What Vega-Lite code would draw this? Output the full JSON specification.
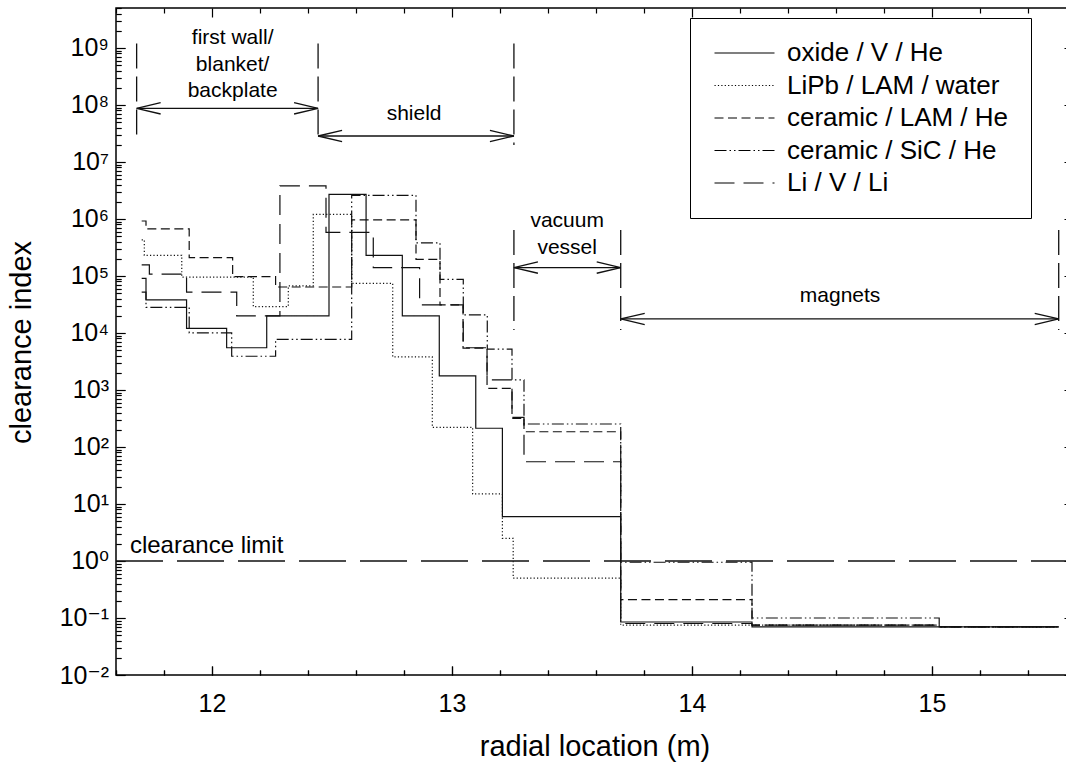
{
  "$schema": "https://vega.github.io/schema/vega-lite/v6.json",
  "width": 957,
  "height": 667,
  "autosize": {"type": "none"},
  "padding": {"left": 116, "top": 8, "right": -7, "bottom": 101},
  "config": {
    "font": "Liberation Sans",
    "view": {"stroke": "black", "strokeWidth": 1.5},
    "axis": {"domain": false, "labelColor": "black", "titleColor": "black", "labelFont": "Liberation Sans, DejaVu Sans", "titleFont": "Liberation Sans", "titleFontWeight": "normal"}
  },
  "datasets": {
    "series": [
      {"s": "oxide / V / He", "x": 11.707, "y": 91000},
      {"s": "oxide / V / He", "x": 11.725, "y": 38000},
      {"s": "oxide / V / He", "x": 11.894, "y": 12000},
      {"s": "oxide / V / He", "x": 12.061, "y": 5500},
      {"s": "oxide / V / He", "x": 12.228, "y": 20000},
      {"s": "oxide / V / He", "x": 12.4875, "y": 2700000},
      {"s": "oxide / V / He", "x": 12.642, "y": 230000},
      {"s": "oxide / V / He", "x": 12.793, "y": 20000},
      {"s": "oxide / V / He", "x": 12.947, "y": 1760},
      {"s": "oxide / V / He", "x": 13.099, "y": 213},
      {"s": "oxide / V / He", "x": 13.21, "y": 6},
      {"s": "oxide / V / He", "x": 13.703, "y": 0.085},
      {"s": "oxide / V / He", "x": 14.25, "y": 0.07},
      {"s": "oxide / V / He", "x": 15.528, "y": 0.07},

      {"s": "LiPb / LAM / water", "x": 11.707, "y": 430000},
      {"s": "LiPb / LAM / water", "x": 11.718, "y": 230000},
      {"s": "LiPb / LAM / water", "x": 11.874, "y": 95000},
      {"s": "LiPb / LAM / water", "x": 12.172, "y": 29000},
      {"s": "LiPb / LAM / water", "x": 12.318, "y": 67000},
      {"s": "LiPb / LAM / water", "x": 12.422, "y": 1200000},
      {"s": "LiPb / LAM / water", "x": 12.582, "y": 74000},
      {"s": "LiPb / LAM / water", "x": 12.753, "y": 3800},
      {"s": "LiPb / LAM / water", "x": 12.918, "y": 221},
      {"s": "LiPb / LAM / water", "x": 13.086, "y": 15},
      {"s": "LiPb / LAM / water", "x": 13.21, "y": 2.5},
      {"s": "LiPb / LAM / water", "x": 13.255, "y": 0.5},
      {"s": "LiPb / LAM / water", "x": 13.703, "y": 0.075},
      {"s": "LiPb / LAM / water", "x": 15.03, "y": 0.07},
      {"s": "LiPb / LAM / water", "x": 15.528, "y": 0.07},

      {"s": "ceramic / LAM / He", "x": 11.707, "y": 920000},
      {"s": "ceramic / LAM / He", "x": 11.725, "y": 670000},
      {"s": "ceramic / LAM / He", "x": 11.905, "y": 210000},
      {"s": "ceramic / LAM / He", "x": 12.086, "y": 97000},
      {"s": "ceramic / LAM / He", "x": 12.265, "y": 64000},
      {"s": "ceramic / LAM / He", "x": 12.582, "y": 960000},
      {"s": "ceramic / LAM / He", "x": 12.85, "y": 196000},
      {"s": "ceramic / LAM / He", "x": 12.95, "y": 31000},
      {"s": "ceramic / LAM / He", "x": 13.046, "y": 5400},
      {"s": "ceramic / LAM / He", "x": 13.146, "y": 1070},
      {"s": "ceramic / LAM / He", "x": 13.25, "y": 318},
      {"s": "ceramic / LAM / He", "x": 13.3, "y": 185},
      {"s": "ceramic / LAM / He", "x": 13.703, "y": 0.21},
      {"s": "ceramic / LAM / He", "x": 14.25, "y": 0.075},
      {"s": "ceramic / LAM / He", "x": 15.03, "y": 0.07},
      {"s": "ceramic / LAM / He", "x": 15.528, "y": 0.07},

      {"s": "ceramic / SiC / He", "x": 11.707, "y": 52000},
      {"s": "ceramic / SiC / He", "x": 11.725, "y": 28000},
      {"s": "ceramic / SiC / He", "x": 11.905, "y": 10000},
      {"s": "ceramic / SiC / He", "x": 12.082, "y": 3900},
      {"s": "ceramic / SiC / He", "x": 12.265, "y": 7700},
      {"s": "ceramic / SiC / He", "x": 12.582, "y": 2600000},
      {"s": "ceramic / SiC / He", "x": 12.85, "y": 380000},
      {"s": "ceramic / SiC / He", "x": 12.95, "y": 87000},
      {"s": "ceramic / SiC / He", "x": 13.047, "y": 20700},
      {"s": "ceramic / SiC / He", "x": 13.147, "y": 5200},
      {"s": "ceramic / SiC / He", "x": 13.25, "y": 1500},
      {"s": "ceramic / SiC / He", "x": 13.3, "y": 253},
      {"s": "ceramic / SiC / He", "x": 13.703, "y": 0.95},
      {"s": "ceramic / SiC / He", "x": 14.25, "y": 0.1},
      {"s": "ceramic / SiC / He", "x": 15.03, "y": 0.07},
      {"s": "ceramic / SiC / He", "x": 15.528, "y": 0.07},

      {"s": "Li / V / Li", "x": 11.707, "y": 156000},
      {"s": "Li / V / Li", "x": 11.739, "y": 108000},
      {"s": "Li / V / Li", "x": 11.894, "y": 52000},
      {"s": "Li / V / Li", "x": 12.103, "y": 20000},
      {"s": "Li / V / Li", "x": 12.283, "y": 3800000},
      {"s": "Li / V / Li", "x": 12.475, "y": 580000},
      {"s": "Li / V / Li", "x": 12.672, "y": 140000},
      {"s": "Li / V / Li", "x": 12.865, "y": 31000},
      {"s": "Li / V / Li", "x": 13.047, "y": 5500},
      {"s": "Li / V / Li", "x": 13.146, "y": 1500},
      {"s": "Li / V / Li", "x": 13.25, "y": 330},
      {"s": "Li / V / Li", "x": 13.3, "y": 55},
      {"s": "Li / V / Li", "x": 13.703, "y": 0.08},
      {"s": "Li / V / Li", "x": 14.25, "y": 0.075},
      {"s": "Li / V / Li", "x": 15.03, "y": 0.07},
      {"s": "Li / V / Li", "x": 15.528, "y": 0.07}
    ],
    "limit": [{"x1": 11.6, "x2": 15.5875, "y": 1}],
    "bounds": [
      {"x": 11.686, "y1": 1.2e9, "y2": 2.24e7},
      {"x": 12.442, "y1": 1.2e9, "y2": 2.24e7},
      {"x": 13.258, "y1": 1.2e9, "y2": 1.98e7},
      {"x": 13.258, "y1": 640000, "y2": 11300},
      {"x": 13.703, "y1": 640000, "y2": 11300},
      {"x": 15.528, "y1": 640000, "y2": 11300}
    ],
    "spans": [
      {"x1": 11.686, "x2": 12.442, "y": 8.7e7},
      {"x1": 12.442, "x2": 13.258, "y": 2.85e7},
      {"x1": 13.258, "x2": 13.703, "y": 140000},
      {"x1": 13.703, "x2": 15.528, "y": 17600}
    ],
    "heads": [
      {"x": 11.686, "y": 8.7e7, "dir": "L"},
      {"x": 12.442, "y": 8.7e7, "dir": "R"},
      {"x": 12.442, "y": 2.85e7, "dir": "L"},
      {"x": 13.258, "y": 2.85e7, "dir": "R"},
      {"x": 13.258, "y": 140000, "dir": "L"},
      {"x": 13.703, "y": 140000, "dir": "R"},
      {"x": 13.703, "y": 17600, "dir": "L"},
      {"x": 15.528, "y": 17600, "dir": "R"}
    ],
    "labels": [
      {"x": 12.086, "y": 1.16e9, "t": "first wall/"},
      {"x": 12.086, "y": 3.94e8, "t": "blanket/"},
      {"x": 12.086, "y": 1.35e8, "t": "backplate"},
      {"x": 12.842, "y": 5.4e7, "t": "shield"},
      {"x": 13.48, "y": 710000, "t": "vacuum"},
      {"x": 13.48, "y": 243000, "t": "vessel"},
      {"x": 14.617, "y": 35000, "t": "magnets"}
    ],
    "limitlabel": [{"x": 11.658, "y": 1.38, "t": "clearance limit"}]
  },
  "layer": [
    {
      "data": {"name": "series"},
      "mark": {"type": "line", "interpolate": "step-after", "strokeWidth": 1.2, "color": "#111"},
      "encoding": {
        "x": {"field": "x", "type": "quantitative",
          "scale": {"domain": [11.6, 15.5875], "nice": false, "zero": false},
          "axis": {"orient": "bottom",
            "values": [11.6, 11.8, 12, 12.2, 12.4, 12.6, 12.8, 13, 13.2, 13.4, 13.6, 13.8, 14, 14.2, 14.4, 14.6, 14.8, 15, 15.2, 15.4],
            "labelExpr": "abs(datum.value - round(datum.value)) < 0.001 ? format(datum.value, 'd') : ''",
            "ticks": true, "tickColor": "black", "tickWidth": 1.2,
            "tickSize": {"condition": {"test": "abs(datum.value - round(datum.value)) < 0.001", "value": -9}, "value": -5},
            "grid": true, "gridColor": "black", "gridOpacity": 1, "gridWidth": 1.2,
            "gridDash": {"condition": {"test": "abs(datum.value - round(datum.value)) < 0.001", "value": [9, 649, 9, 200]}, "value": [5, 657, 5, 200]},
            "labelFontSize": 25, "labelPadding": 25, "labelBound": false, "labelOverlap": false,
            "title": "radial location (m)", "titleFontSize": 29, "titleY": 57, "titleBaseline": "top"}},
        "y": {"field": "y", "type": "quantitative",
          "scale": {"type": "log", "domain": [0.01, 5011872336], "nice": false},
          "axis": {"orient": "left",
            "values": [0.01,0.02,0.03,0.04,0.05,0.06,0.07,0.08,0.09,0.1,0.2,0.3,0.4,0.5,0.6,0.7,0.8,0.9,1,2,3,4,5,6,7,8,9,10,20,30,40,50,60,70,80,90,100,200,300,400,500,600,700,800,900,1000,2000,3000,4000,5000,6000,7000,8000,9000,10000,20000,30000,40000,50000,60000,70000,80000,90000,100000,200000,300000,400000,500000,600000,700000,800000,900000,1000000,2000000,3000000,4000000,5000000,6000000,7000000,8000000,9000000,10000000,20000000,30000000,40000000,50000000,60000000,70000000,80000000,90000000,100000000,200000000,300000000,400000000,500000000,600000000,700000000,800000000,900000000,1000000000,2000000000,3000000000,4000000000,5000000000],
            "labelExpr": "abs(log(datum.value)/LN10 - round(log(datum.value)/LN10)) < 0.001 ? '10' + ['⁻²','⁻¹','⁰','¹','²','³','⁴','⁵','⁶','⁷','⁸','⁹'][round(log(datum.value)/LN10)+2] : ''",
            "ticks": true, "tickColor": "black", "tickWidth": 1.2,
            "tickSize": {"condition": {"test": "abs(log(datum.value)/LN10 - round(log(datum.value)/LN10)) < 0.001", "value": -9}, "value": -5},
            "grid": true, "gridColor": "black", "gridOpacity": 1, "gridWidth": 1.2,
            "gridDash": {"condition": {"test": "abs(log(datum.value)/LN10 - round(log(datum.value)/LN10)) < 0.001", "value": [9, 939, 9, 200]}, "value": [5, 947, 5, 200]},
            "labelFontSize": 25, "labelPadding": 16.5, "labelBound": false, "labelOverlap": false,
            "title": "clearance index", "titleFontSize": 29, "titleX": -80, "titleY": 334}},
        "strokeDash": {"field": "s", "type": "nominal",
          "scale": {"domain": ["oxide / V / He", "LiPb / LAM / water", "ceramic / LAM / He", "ceramic / SiC / He", "Li / V / Li"],
                    "range": [[1, 0], [1.2, 2.2], [9, 4.5], [12, 3, 1.5, 3, 1.5, 3], [20, 9]]},
          "legend": {"title": null, "orient": "none", "legendX": 574, "legendY": 10, "direction": "vertical",
                     "strokeColor": "black", "fillColor": "white", "padding": 22, "symbolType": "M -5 0 L 5 0", "symbolSize": 144,
                     "symbolOffset": 19.5, "labelOffset": 29.5, "labelFontSize": 26, "labelFont": "Liberation Sans",
                     "rowPadding": 6.5, "symbolStrokeColor": "black", "symbolStrokeWidth": 1.2, "labelLimit": 400, "labelColor": "black"}}
      }
    },
    {
      "data": {"name": "limit"},
      "mark": {"type": "rule", "strokeDash": [47, 14], "strokeWidth": 1.5, "color": "#111"},
      "encoding": {
        "x": {"field": "x1", "type": "quantitative", "scale": {"domain": [11.6, 15.5875], "nice": false, "zero": false}},
        "x2": {"field": "x2"},
        "y": {"field": "y", "type": "quantitative", "scale": {"type": "log", "domain": [0.01, 5011872336], "nice": false}}
      }
    },
    {
      "data": {"name": "bounds"},
      "mark": {"type": "rule", "strokeDash": [25, 8], "strokeWidth": 1.3, "color": "#111"},
      "encoding": {
        "x": {"field": "x", "type": "quantitative", "scale": {"domain": [11.6, 15.5875], "nice": false, "zero": false}},
        "y": {"field": "y1", "type": "quantitative", "scale": {"type": "log", "domain": [0.01, 5011872336], "nice": false}},
        "y2": {"field": "y2"}
      }
    },
    {
      "data": {"name": "spans"},
      "mark": {"type": "rule", "strokeWidth": 1.3, "color": "#111"},
      "encoding": {
        "x": {"field": "x1", "type": "quantitative", "scale": {"domain": [11.6, 15.5875], "nice": false, "zero": false}},
        "x2": {"field": "x2"},
        "y": {"field": "y", "type": "quantitative", "scale": {"type": "log", "domain": [0.01, 5011872336], "nice": false}}
      }
    },
    {
      "data": {"name": "heads"},
      "mark": {"type": "point", "filled": false, "strokeWidth": 1.3, "color": "#111", "size": 576, "opacity": 1},
      "encoding": {
        "x": {"field": "x", "type": "quantitative", "scale": {"domain": [11.6, 15.5875], "nice": false, "zero": false}},
        "y": {"field": "y", "type": "quantitative", "scale": {"type": "log", "domain": [0.01, 5011872336], "nice": false}},
        "shape": {"field": "dir", "type": "nominal", "scale": {"domain": ["L", "R"], "range": ["M 2 -0.47 L 0 0 L 2 0.47", "M -2 -0.47 L 0 0 L -2 0.47"]}, "legend": null}
      }
    },
    {
      "data": {"name": "labels"},
      "mark": {"type": "text", "fontSize": 21, "align": "center", "baseline": "alphabetic", "color": "black", "font": "Liberation Sans"},
      "encoding": {
        "x": {"field": "x", "type": "quantitative", "scale": {"domain": [11.6, 15.5875], "nice": false, "zero": false}},
        "y": {"field": "y", "type": "quantitative", "scale": {"type": "log", "domain": [0.01, 5011872336], "nice": false}},
        "text": {"field": "t"}
      }
    },
    {
      "data": {"name": "limitlabel"},
      "mark": {"type": "text", "fontSize": 24, "align": "left", "baseline": "alphabetic", "color": "black", "font": "Liberation Sans"},
      "encoding": {
        "x": {"field": "x", "type": "quantitative", "scale": {"domain": [11.6, 15.5875], "nice": false, "zero": false}},
        "y": {"field": "y", "type": "quantitative", "scale": {"type": "log", "domain": [0.01, 5011872336], "nice": false}},
        "text": {"field": "t"}
      }
    }
  ]
}
